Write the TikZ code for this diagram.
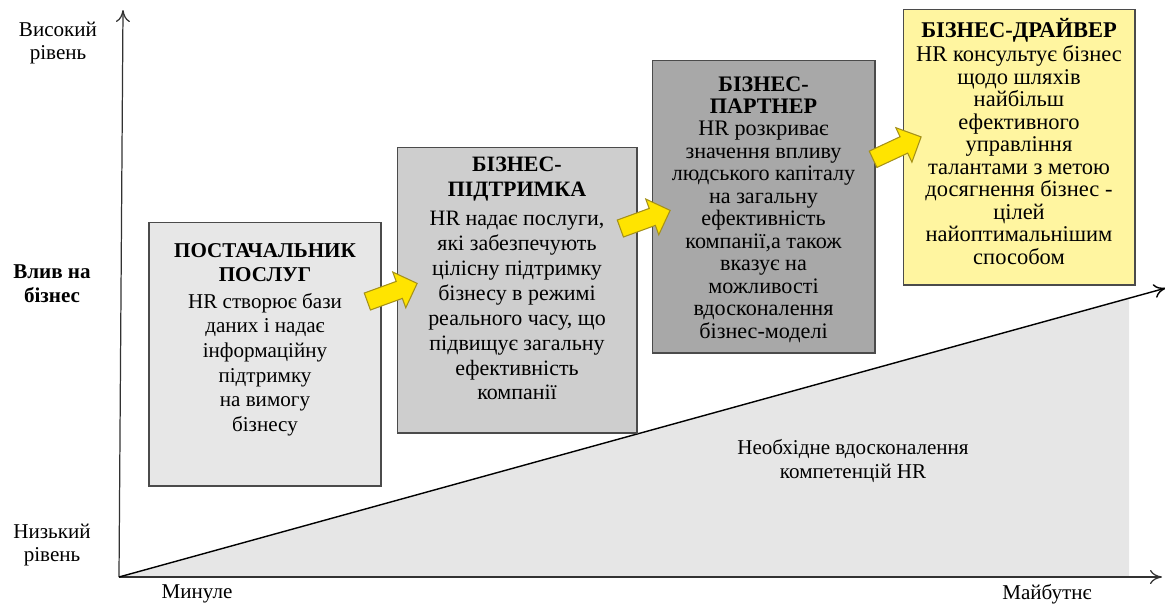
\documentclass[tikz,border=0pt]{standalone}
\usepackage{fontspec}
\setmainfont{Liberation Serif}
\usepackage{tikz}
\usetikzlibrary{arrows.meta,positioning,shapes.arrows,calc}
\usepackage{xcolor}
\definecolor{greyA}{RGB}{231,231,231}
\definecolor{greyB}{RGB}{206,206,206}
\definecolor{greyC}{RGB}{168,168,168}
\definecolor{paleyellow}{RGB}{255,245,160}
\definecolor{arrowyellow}{RGB}{255,228,0}
\definecolor{arrowedge}{RGB}{165,145,25}
\definecolor{edgegrey}{RGB}{75,75,75}
\definecolor{zonegrey}{RGB}{230,230,230}
\definecolor{axisgrey}{RGB}{50,50,50}

\begin{document}
\begin{tikzpicture}[x=0.02cm,y=-0.02cm,>={To[length=2.4mm,width=2.8mm]},font=\fontsize{12}{13.6}\selectfont]
\tikzstyle{box}=[draw=edgegrey,line width=0.6pt,inner sep=0pt]
\tikzstyle{txt}=[align=center,anchor=north,inner sep=0pt]
\tikzstyle{blk}=[single arrow,draw=arrowedge,fill=arrowyellow,line width=0.6pt,inner xsep=0pt,inner ysep=0.17cm,single arrow head extend=0.2cm,minimum height=1.06cm]
\tikzstyle{lbl}=[align=center,inner sep=0pt]
\useasboundingbox (0,0) rectangle (1165,605);

% competence zone and axes
\coordinate (O) at (119,577);
\coordinate (top) at (123,10);
\coordinate (right) at (1162,577);
\coordinate (trend) at (1166,288);
\fill[zonegrey] (O) -- (1129,297.4) -- (1129,577) -- cycle;
\draw[->,axisgrey,line width=0.7pt] (O) -- (top);
\draw[->,axisgrey,line width=0.7pt] (O) -- (right);
\draw[->,black,line width=0.8pt] (O) -- (trend);

\node[lbl] (high) at (58,43) {Високий\\рівень};
\node[lbl,font=\fontsize{12}{13.6}\selectfont\bfseries] (mid) at (52,284) {Влив на\\бізнес};
\node[lbl] (low) at (52,545) {Низький\\рівень};
\node[lbl] (past) at (197,594) {Минуле};
\node[lbl] (future) at (1047,594) {Майбутнє};
\node[lbl] (need) at (853,461) {Необхідне вдосконалення\\компетенцій HR};

% stages
\node[box,fill=greyA,minimum width=4.64cm,minimum height=5.28cm] (b1) at (265,354) {};
\node[box,fill=greyB,minimum width=4.8cm,minimum height=5.72cm] (b2) at (517,290) {};
\node[box,fill=greyC,minimum width=4.46cm,minimum height=5.86cm] (b3) at (763.5,206.5) {};
\node[box,fill=paleyellow,minimum width=4.64cm,minimum height=5.52cm] (b4) at (1019,147) {};

\node[txt,font=\fontsize{12}{14}\selectfont] (t1) at (265,243)
  {\textbf{ПОСТАЧАЛЬНИК}\\\textbf{ПОСЛУГ}\\[1pt]HR створює бази\\даних і надає\\інформаційну\\підтримку\\на вимогу\\бізнесу};
\node[txt,font=\fontsize{12.5}{14.2}\selectfont] (t2) at (517,157)
  {\textbf{БІЗНЕС-}\\\textbf{ПІДТРИМКА}\\[2pt]HR надає послуги,\\які забезпечують\\цілісну підтримку\\бізнесу в режимі\\реального часу, що\\підвищує загальну\\ефективність\\компанії};
\node[txt,font=\fontsize{12.6}{12.8}\selectfont] (t3) at (763.5,76)
  {\textbf{БІЗНЕС-}\\\textbf{ПАРТНЕР}\\HR розкриває\\значення впливу\\людського капіталу\\на загальну\\ефективність\\компанії,а також\\вказує на\\можливості\\вдосконалення\\бізнес-моделі};
\node[txt,font=\fontsize{12.8}{12.8}\selectfont] (t4) at (1019,18)
  {\textbf{БІЗНЕС-ДРАЙВЕР}\\[1pt]HR консультує бізнес\\щодо шляхів\\найбільш\\ефективного\\управління\\талантами з метою\\досягнення бізнес -\\цілей\\найоптимальнішим\\способом};

% transitions
\node[blk,rotate=20] (a12) at (388,294) {};
\node[blk,rotate=20] (a23) at (641,221) {};
\node[blk,rotate=25] (a34) at (893,150) {};
\end{tikzpicture}
\end{document}
